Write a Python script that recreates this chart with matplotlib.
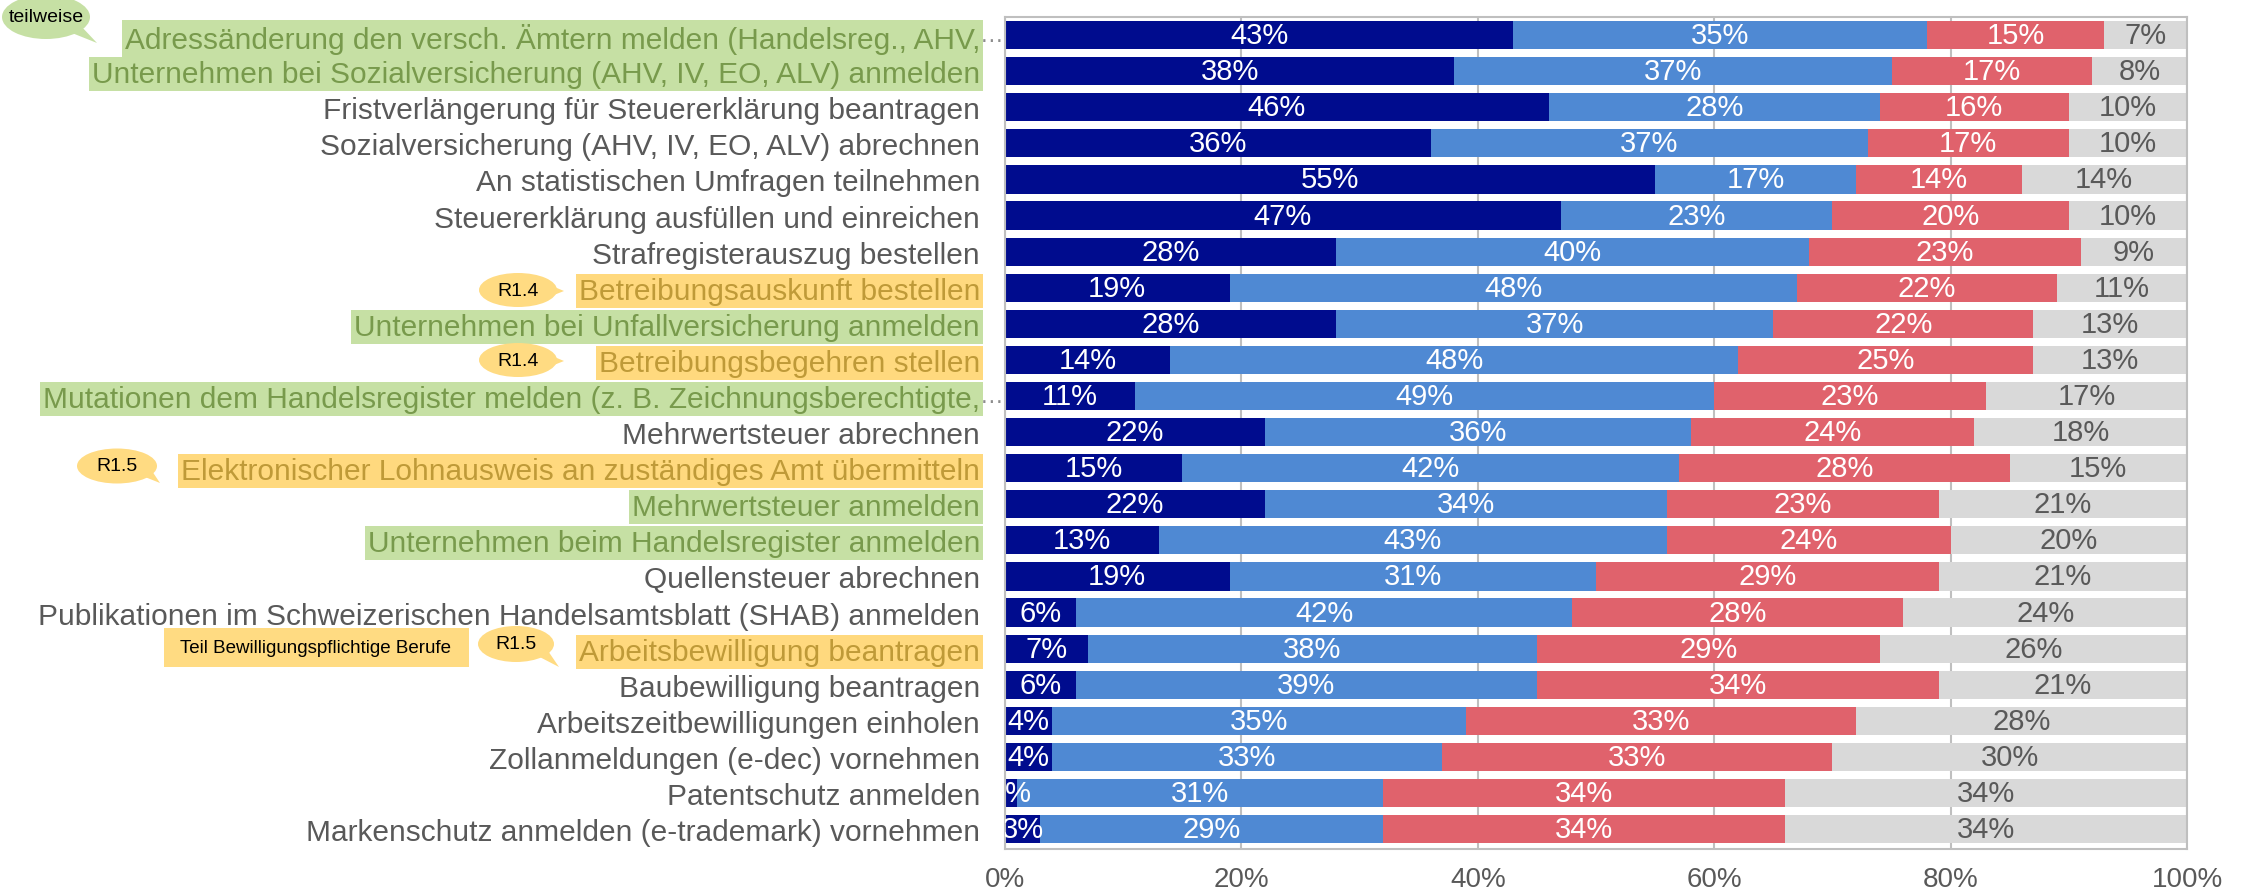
import numpy as np
import matplotlib
matplotlib.use("Agg")
import matplotlib.pyplot as plt
from matplotlib.patches import Ellipse, Polygon, Rectangle

plt.rcParams['font.family'] = ['Liberation Sans', 'DejaVu Sans']

categories = [
    "Adressänderung den versch. Ämtern melden (Handelsreg., AHV,",
    "Unternehmen bei Sozialversicherung (AHV, IV, EO, ALV) anmelden",
    "Fristverlängerung für Steuererklärung beantragen",
    "Sozialversicherung (AHV, IV, EO, ALV) abrechnen",
    "An statistischen Umfragen teilnehmen",
    "Steuererklärung ausfüllen und einreichen",
    "Strafregisterauszug bestellen",
    "Betreibungsauskunft bestellen",
    "Unternehmen bei Unfallversicherung anmelden",
    "Betreibungsbegehren stellen",
    "Mutationen dem Handelsregister melden (z. B. Zeichnungsberechtigte,",
    "Mehrwertsteuer abrechnen",
    "Elektronischer Lohnausweis an zuständiges Amt übermitteln",
    "Mehrwertsteuer anmelden",
    "Unternehmen beim Handelsregister anmelden",
    "Quellensteuer abrechnen",
    "Publikationen im Schweizerischen Handelsamtsblatt (SHAB) anmelden",
    "Arbeitsbewilligung beantragen",
    "Baubewilligung beantragen",
    "Arbeitszeitbewilligungen einholen",
    "Zollanmeldungen (e-dec) vornehmen",
    "Patentschutz anmelden",
    "Markenschutz anmelden (e-trademark) vornehmen",
]
series_dark = [43, 38, 46, 36, 55, 47, 28, 19, 28, 14, 11, 22, 15, 22, 13, 19, 6, 7, 6, 4, 4, 1, 3]
series_blue = [35, 37, 28, 37, 17, 23, 40, 48, 37, 48, 49, 36, 42, 34, 43, 31, 42, 38, 39, 35, 33, 31, 29]
series_red = [15, 17, 16, 17, 14, 20, 23, 22, 22, 25, 23, 24, 28, 23, 24, 29, 28, 29, 34, 33, 33, 34, 34]
series_grey = [7, 8, 10, 10, 14, 10, 9, 11, 13, 13, 17, 18, 15, 21, 20, 21, 24, 26, 21, 28, 30, 34, 34]
x_ticks = [0, 20, 40, 60, 80, 100]
x_tick_labels = ["0%", "20%", "40%", "60%", "80%", "100%"]
green_rows = [0, 1, 8, 10, 13, 14]
yellow_rows = [7, 9, 12, 17]
ellipsis_rows = [0, 10]

W, H = 2252, 895
fig = plt.figure(figsize=(W / 100, H / 100), dpi=100)
ax = fig.add_axes([1005 / W, 45 / H, (2187 - 1005) / W, (850 - 18) / H])

n = len(categories)
y = np.arange(n)
colors = ['#000C8E', '#4F89D3', '#E0626C', '#D9D9D9']
tcolors = ['white', 'white', 'white', '#595959']
left = np.zeros(n)
for vals, col, tc in zip([series_dark, series_blue, series_red, series_grey], colors, tcolors):
    vals = np.array(vals, dtype=float)
    ax.barh(y, vals, left=left, height=0.78, color=col, edgecolor='none', zorder=2)
    for yi, v, l in zip(y, vals, left):
        ax.text(l + v / 2, yi, f"{int(v)}%", ha='center', va='center', color=tc,
                fontsize=21, clip_on=True, zorder=3)
    left += vals

ax.set_xlim(0, 100)
ax.set_ylim(22.55, -0.5)
ax.set_xticks(x_ticks, x_tick_labels)
ax.set_yticks(y, categories)
ax.tick_params(axis='y', length=0, pad=18, labelsize=21.5, labelcolor='#595959')
ax.tick_params(axis='x', length=0, pad=12, labelsize=20, labelcolor='#595959')
ax.xaxis.grid(True, color='#BFBFBF', lw=1.5, zorder=0)
ax.set_axisbelow(True)
for s in ax.spines.values():
    s.set_color('#BFBFBF')
    s.set_linewidth(1.5)

labels = ax.get_yticklabels()
for i in green_rows:
    labels[i].set_bbox(dict(boxstyle='square,pad=0.1', fc='#C6E0A4', ec='none'))
    labels[i].set_color('#789A4C')
for i in yellow_rows:
    labels[i].set_bbox(dict(boxstyle='square,pad=0.1', fc='#FFD97E', ec='none'))
    labels[i].set_color('#BF9A38')
for i in ellipsis_rows:
    ax.text(-0.15, i, '…', ha='right', va='center', fontsize=17, color='#8C8C8C', clip_on=False)

T = fig.transFigure


def fx(x):
    return x / W


def fy(yy):
    return 1 - yy / H


def bubble(cx, cy, w, h, tail, color, text, fs=13):
    poly = Polygon([(fx(px), fy(py)) for px, py in tail], closed=True, transform=T,
                   fc=color, ec='none', zorder=5)
    fig.add_artist(poly)
    e = Ellipse((fx(cx), fy(cy)), w / W, h / H, transform=T, fc=color, ec='none', zorder=5)
    fig.add_artist(e)
    fig.text(fx(cx), fy(cy), text, ha='center', va='center', fontsize=fs, color='black', zorder=6)


green = '#C6E0A4'
yellow = '#FFDB82'
bubble(46, 18, 88, 44, [(62, 30), (80, 26), (97, 44)], green, 'teilweise', 14)
bubble(518, 291, 78, 34, [(545, 284), (549, 298), (564, 292)], yellow, 'R1.4', 14)
bubble(518, 361, 78, 34, [(545, 354), (549, 368), (564, 362)], yellow, 'R1.4', 14)
bubble(117, 467, 80, 35, [(135, 474), (150, 469), (160, 484)], yellow, 'R1.5', 14)
bubble(516, 645, 76, 36, [(532, 654), (546, 649), (559, 668)], yellow, 'R1.5', 14)

fig.add_artist(Rectangle((fx(164), fy(668)), (469 - 164) / W, (668 - 629) / H, transform=T,
                         fc=yellow, ec='none', zorder=5))
fig.text(fx(316), fy(648.5), 'Teil Bewilligungspflichtige Berufe', ha='center', va='center',
         fontsize=13.5, color='black', zorder=6)

fig.savefig('out.png', dpi=100)
